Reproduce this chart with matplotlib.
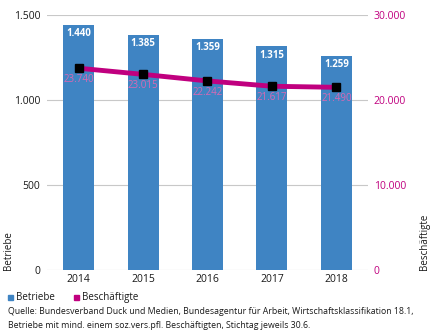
import numpy as np
import matplotlib.pyplot as plt

# ====== Data ======
years = ['2014', '2015', '2016', '2017', '2018']
betriebe = [1440, 1385, 1359, 1315, 1259]
beschaeftigte = [23740, 23015, 22242, 21617, 21490]
betriebe_labels = ['1.440', '1.385', '1.359', '1.315', '1.259']
besch_labels = ['23.740', '23.015', '22.242', '21.617', '21.490']
left_ticks = [0, 500, 1000, 1500]
left_ticklabels = ['0', '500', '1.000', '1.500']
right_ticks = [0, 10000, 20000, 30000]
right_ticklabels = ['0', '10.000', '20.000', '30.000']

BLUE = '#3f84c3'
MAGENTA = '#c0007f'
PINK = '#d769b4'
GRID = '#c8c8c8'
TXT = '#1a1a1a'

plt.rcParams['font.family'] = ['Open Sans', 'DejaVu Sans']

fig = plt.figure(figsize=(4.35, 3.34), dpi=100)
ax = fig.add_axes([0.108, 0.192, 0.738, 0.763])
x = np.arange(len(years))

ax.bar(x, betriebe, width=0.48, color=BLUE, zorder=2)
for xi, v, lab in zip(x, betriebe, betriebe_labels):
	ax.text(xi, v - 18, lab, ha='center', va='top', color='white',
			fontsize=7, fontweight='bold', zorder=4)

ax.set_xlim(-0.49, 4.49)
ax.set_ylim(0, 1500)
ax.set_yticks(left_ticks)
ax.set_yticklabels(left_ticklabels)
ax.set_xticks(x)
ax.set_xticklabels(years)
ax.grid(axis='y', color=GRID, lw=0.8, zorder=0)
for s in ax.spines.values():
	s.set_visible(False)
ax.tick_params(axis='both', length=0, labelsize=7.5, colors=TXT)
ax.tick_params(axis='y', pad=5)
ax.tick_params(axis='x', pad=3)

# right axis for Beschaeftigte
ax2 = ax.twinx()
ax2.set_ylim(0, 30000)
ax2.set_yticks(right_ticks)
ax2.set_yticklabels(right_ticklabels)
ax2.tick_params(axis='y', length=0, labelsize=7.5, colors=MAGENTA, pad=4)
for s in ax2.spines.values():
	s.set_visible(False)
ax2.plot(x, beschaeftigte, color=MAGENTA, lw=3.5, zorder=3)
ax2.plot(x, beschaeftigte, ls='none', marker='s', ms=6, color='black', zorder=4)
for xi, v, lab in zip(x, beschaeftigte, besch_labels):
	ax2.text(xi, v - 700, lab, ha='center', va='top', color=PINK,
			 fontsize=7, zorder=5)

# axis titles placed by hand so they stay inside the figure
fig.text(0.020, 0.192, 'Betriebe', rotation=90, fontsize=7, color=TXT,
		 ha='center', va='bottom')
fig.text(0.975, 0.192, 'Beschäftigte', rotation=90, fontsize=7, color=TXT,
		 ha='center', va='bottom')

# legend and source
fig.patches.append(plt.Rectangle((0.018, 0.103), 0.011, 0.014, color=BLUE,
								 transform=fig.transFigure))
fig.text(0.036, 0.110, 'Betriebe', fontsize=7, va='center', color=TXT)
fig.patches.append(plt.Rectangle((0.170, 0.103), 0.011, 0.014, color=MAGENTA,
								 transform=fig.transFigure))
fig.text(0.188, 0.110, 'Beschäftigte', fontsize=7, va='center', color=TXT)
fig.text(0.018, 0.068, 'Quelle: Bundesverband Duck und Medien, Bundesagentur für Arbeit, '
		 'Wirtschaftsklassifikation 18.1,', fontsize=6.3, va='center', color=TXT)
fig.text(0.018, 0.026, 'Betriebe mit mind. einem soz.vers.pfl. Beschäftigten, '
		 'Stichtag jeweils 30.6.', fontsize=6.3, va='center', color=TXT)

plt.savefig('out.png', dpi=100)
